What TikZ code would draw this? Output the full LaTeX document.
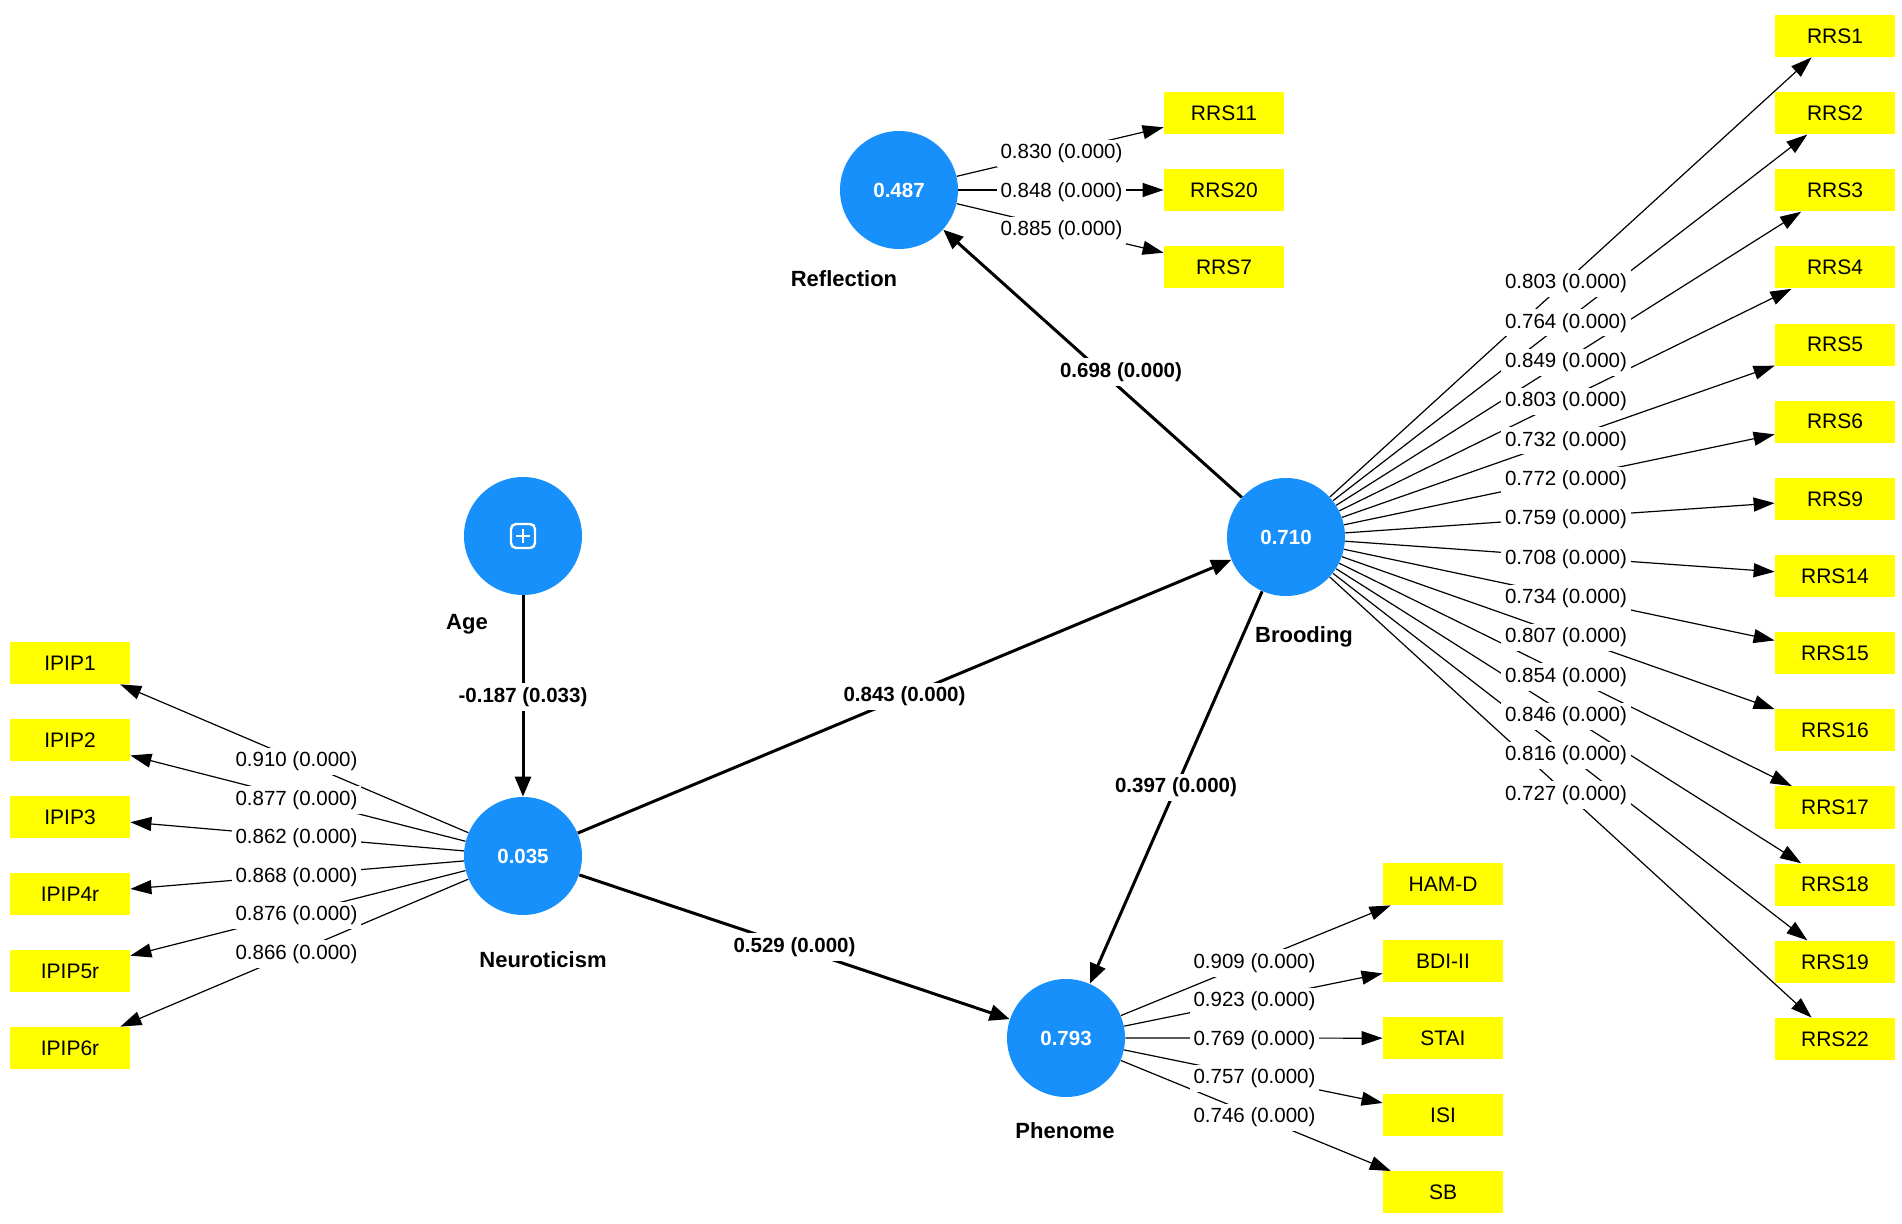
\documentclass[tikz,border=0pt]{standalone}
\usepackage{fontspec}
\setmainfont{Liberation Sans}
\usetikzlibrary{arrows.meta,calc}
\definecolor{lvblue}{RGB}{24,144,252}
\definecolor{indyellow}{RGB}{255,255,0}
\tikzset{
  lv/.style={circle, fill=lvblue, minimum size=59pt, inner sep=0pt, text=white, font=\fontsize{10.25}{12}\selectfont\bfseries},
  ind/.style={rectangle, fill=indyellow, minimum width=60pt, minimum height=21pt, inner sep=0pt, font=\fontsize{10.5}{12}\selectfont},
  lvname/.style={font=\fontsize{11}{13}\selectfont\bfseries, inner sep=0pt},
  loadline/.style={line width=0.6pt, -{Triangle[length=10.5pt,width=7pt]}},
  structline/.style={line width=1.5pt, -{Triangle[length=10pt,width=8pt]}},
  lbl/.style={fill=white, inner sep=2pt, font=\fontsize{10.25}{12}\selectfont},
  slbl/.style={fill=white, inner sep=2pt, font=\fontsize{10.25}{12}\selectfont\bfseries}
}
\begin{document}
\begin{tikzpicture}[x=0.5pt,y=-0.5pt]
\useasboundingbox (0,0) rectangle (1902,1224);
\fill[white] (0,0) rectangle (1902,1224);

% latent variables
\node[lv] (refl) at (899,190) {0.487};
\node[lv] (age)  at (523,536) {};
\node[lv] (neur) at (523,856) {0.035};
\node[lv] (brood) at (1286,537) {0.710};
\node[lv] (phen) at (1066,1038) {0.793};

% Age icon
\draw[white, line width=1.2pt, rounded corners=2.5pt] ($(age)+(-12,-12)$) rectangle ($(age)+(12,12)$);
\draw[white, line width=1.2pt] ($(age)+(-7,0)$) -- ($(age)+(7,0)$);
\draw[white, line width=1.2pt] ($(age)+(0,-7)$) -- ($(age)+(0,7)$);

% latent names
\node[lvname] (nrefl) at (844,279) {Reflection};
\node[lvname] (nage)  at (467,624) {Age};
\node[lvname] (nneur) at (543,960) {Neuroticism};
\node[lvname] (nbrood) at (1304,637) {Brooding};
\node[lvname] (nphen) at (1065,1131) {Phenome};

% Reflection indicators
\node[ind] (rrs11) at (1224,113) {RRS11};
\node[ind] (rrs20) at (1224,190) {RRS20};
\node[ind] (rrs7)  at (1224,267) {RRS7};

% IPIP indicators
\foreach \n/\t [count=\k from 0] in {ip1/IPIP1, ip2/IPIP2, ip3/IPIP3, ip4/IPIP4r, ip5/IPIP5r, ip6/IPIP6r}
  \node[ind] (\n) at (70,663+77*\k) {\t};

% Phenome indicators
\foreach \n/\t [count=\k from 0] in {ham/HAM-D, bdi/BDI-II, stai/STAI, isi/ISI, sb/SB}
  \node[ind] (\n) at (1443,884+77.1*\k) {\t};

% Brooding indicators
\foreach \n/\t [count=\k from 0] in {r1/RRS1, r2/RRS2, r3/RRS3, r4/RRS4, r5/RRS5, r6/RRS6, r9/RRS9, r14/RRS14, r15/RRS15, r16/RRS16, r17/RRS17, r18/RRS18, r19/RRS19, r22/RRS22}
  \node[ind] (\n) at (1835,36+77.15*\k) {\t};

% loading lines
\foreach \n in {rrs11, rrs20, rrs7} \draw[loadline] (refl) -- (\n);
\foreach \n in {ip1, ip2, ip3, ip4, ip5, ip6} \draw[loadline] (neur) -- (\n);
\foreach \n in {ham, bdi, stai, isi, sb} \draw[loadline] (phen) -- (\n);
\foreach \n in {r1, r2, r3, r4, r5, r6, r9, r14, r15, r16, r17, r18, r19, r22} \draw[loadline] (brood) -- (\n);

% structural paths
\draw[structline] (age) -- (neur);
\draw[structline] (neur) -- (brood);
\draw[structline] (neur) -- (phen);
\draw[structline] (brood) -- (refl);
\draw[structline] (brood) -- (phen);

% loading labels
\foreach \n/\v in {rrs11/0.830, rrs20/0.848, rrs7/0.885}
  \node[lbl] at ($(refl)!0.5!(\n)+(0,2)$) {\v{} (0.000)};
\foreach \n/\v in {ip1/0.910, ip2/0.877, ip3/0.862, ip4/0.868, ip5/0.876, ip6/0.866}
  \node[lbl] at ($(neur)!0.5!(\n)+(0,2)$) {\v{} (0.000)};
\foreach \n/\v in {ham/0.909, bdi/0.923, stai/0.769, isi/0.757, sb/0.746}
  \node[lbl] at ($(phen)!0.5!(\n)+(0,2)$) {\v{} (0.000)};
\foreach \n/\v in {r1/0.803, r2/0.764, r3/0.849, r4/0.803, r5/0.732, r6/0.772, r9/0.759, r14/0.708, r15/0.734, r16/0.807, r17/0.854, r18/0.846, r19/0.816, r22/0.727}
  \node[lbl] at ($(brood)!0.51!(\n)+(0,2)$) {\v{} (0.000)};

% structural labels
\node[slbl] at ($(age)!0.5!(neur)+(0,1)$) {-0.187 (0.033)};
\node[slbl] at ($(neur)!0.5!(brood)$) {0.843 (0.000)};
\node[slbl] at ($(neur)!0.5!(phen)$) {0.529 (0.000)};
\node[slbl] at ($(brood)!0.5!(phen)$) {0.397 (0.000)};
\node[slbl] at (1121,372) {0.698 (0.000)};
\end{tikzpicture}
\end{document}
